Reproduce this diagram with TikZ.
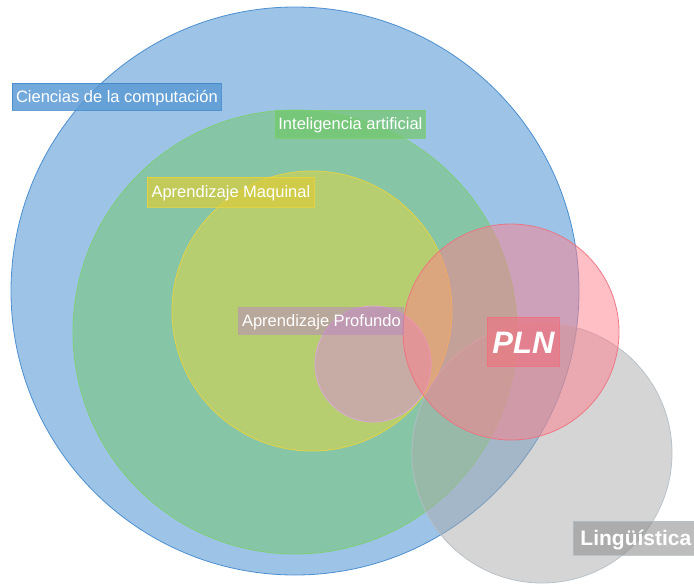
\documentclass[tikz,border=0pt]{standalone}
\usepackage{fontspec}
\setmainfont{Liberation Sans}
\begin{document}
\begin{tikzpicture}[x=1pt,y=-1pt,
  area/.style={circle,inner sep=0pt,line width=0.8pt,fill opacity=#1,draw opacity=0.9},
  tag/.style={anchor=north west,inner sep=0pt,line width=0.8pt,text=white,
    fill opacity=0.7,draw opacity=0.8,text opacity=1,align=center},
  small/.style={font=\fontsize{16.5}{18}\selectfont,text height=15pt,text depth=4pt}
]
\definecolor{cblue}{HTML}{5B9BD5}\definecolor{cblueline}{HTML}{3F87CC}
\definecolor{cgreen}{HTML}{72C86A}\definecolor{cgreenline}{HTML}{7CCF72}
\definecolor{cyellow}{HTML}{E8D83C}\definecolor{cyellowline}{HTML}{E8D440}
\definecolor{cdeep}{HTML}{D58CD9}\definecolor{cdeepline}{HTML}{DDA6DD}
\definecolor{cgrey}{HTML}{ABABAB}\definecolor{cgreyline}{HTML}{B4BEC6}
\definecolor{cred}{HTML}{FF7F8C}\definecolor{credline}{HTML}{F0707E}
\useasboundingbox (0,0) rectangle (694,584);
\clip (0,0) rectangle (694,584);

% nested fields as translucent discs
\node[area=0.6,fill=cblue,draw=cblueline,minimum size=568pt] (cs) at (295,291) {};
\node[area=0.5,fill=cgreen,draw=cgreenline,minimum size=444pt] (ia) at (295,332) {};
\node[area=0.5,fill=cyellow,draw=cyellowline,minimum size=280pt] (ml) at (312,311) {};
\node[area=0.5,fill=cdeep,draw=cdeepline,minimum size=116pt] (dl) at (373,364) {};
\node[area=0.5,fill=cgrey,draw=cgreyline,minimum size=260pt] (ling) at (542,453) {};
\node[area=0.5,fill=cred,draw=credline,minimum size=216pt] (pln) at (511,332) {};

% labels
\node[tag,small,fill=cblue,fill opacity=0.85,draw=cblueline,minimum width=209pt,inner ysep=4pt]
  (tcs) at (12,83) {Ciencias de la computación};
\node[tag,small,fill=cgreen,draw=cgreenline,minimum width=150pt,inner ysep=4.5pt]
  (tia) at (275,110) {Inteligencia artificial};
\node[tag,small,fill=cyellow!95!black,draw=cyellowline,minimum width=167pt,inner ysep=5pt,text height=15.5pt]
  (tml) at (147,177) {Aprendizaje Maquinal};
\node[tag,small,fill=cdeep!70!gray,fill opacity=0.55,draw=none,minimum width=166pt,inner ysep=4.5pt]
  (tdl) at (238,307) {Aprendizaje Profundo};
\node[tag,fill=credline,fill opacity=0.6,draw=credline,minimum width=72pt,inner ysep=7pt,
  font=\fontsize{31}{34}\selectfont\bfseries\itshape,text height=29pt,text depth=6pt]
  (tpln) at (487,317) {PLN};
\node[tag,fill=cgrey!85!black,fill opacity=0.6,draw=cgreyline,minimum width=125pt,inner ysep=5pt,
  font=\fontsize{21}{24}\selectfont\bfseries,text height=19pt,text depth=5pt]
  (tling) at (573,521) {Lingüística};
\end{tikzpicture}
\end{document}
